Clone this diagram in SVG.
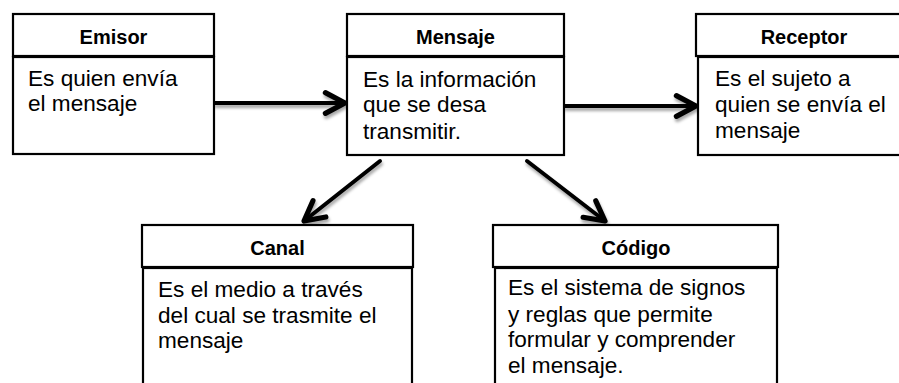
<svg xmlns="http://www.w3.org/2000/svg" width="899" height="383" viewBox="0 0 899 383">
<style>
.box{fill:#fff;stroke:#000;stroke-width:2.2}
.title{font-family:"Liberation Sans",Arial,sans-serif;font-weight:bold;font-size:20px;fill:#000;text-anchor:middle}
.body{font-family:"Liberation Sans",Arial,sans-serif;font-size:22.6px;fill:#000}
.arr{stroke:#000;stroke-width:4;fill:none;stroke-linecap:round;stroke-linejoin:round}
</style>
<defs>
<filter id="sh" x="-20%" y="-50%" width="140%" height="200%">
<feDropShadow dx="1" dy="3" stdDeviation="1.5" flood-color="#000" flood-opacity="0.35"/>
</filter>
<marker id="ah" markerUnits="userSpaceOnUse" markerWidth="30" markerHeight="30" refX="0" refY="0" viewBox="-22 -12 26 24" orient="auto" overflow="visible">
<path d="M-17,-9 L0,0 L-17,9" fill="none" stroke="#000" stroke-width="4.5" stroke-linecap="round" stroke-linejoin="round"/>
</marker>
</defs>
<rect width="899" height="383" fill="#fff"/>
<g id="connectors" filter="url(#sh)">
<line class="arr" x1="215" y1="103" x2="345" y2="103" marker-end="url(#ah)"/>
<line class="arr" x1="565" y1="106" x2="696" y2="106" marker-end="url(#ah)"/>
<line class="arr" x1="380" y1="161" x2="304" y2="221" marker-end="url(#ah)"/>
<line class="arr" x1="527" y1="161" x2="605" y2="221" marker-end="url(#ah)"/>
</g>
<g id="emisor">
<rect class="box" x="13" y="14" width="201" height="42"/>
<rect class="box" x="13" y="57" width="201" height="97"/>
<text class="title" x="113.5" y="44">Emisor</text>
<text class="body" x="28" y="86">Es quien envía</text>
<text class="body" x="28" y="111">el mensaje</text>
</g>
<g id="mensaje">
<rect class="box" x="347" y="14" width="217" height="42"/>
<rect class="box" x="347" y="57" width="217" height="98"/>
<text class="title" x="455.5" y="44">Mensaje</text>
<text class="body" x="363" y="87">Es la información</text>
<text class="body" x="363" y="112">que se desa</text>
<text class="body" x="363" y="139">transmitir.</text>
</g>
<g id="receptor">
<rect class="box" x="696" y="14" width="216" height="42"/>
<rect class="box" x="698" y="57" width="214" height="98"/>
<text class="title" x="804" y="44">Receptor</text>
<text class="body" x="715" y="86">Es el sujeto a</text>
<text class="body" x="715" y="112">quien se envía el</text>
<text class="body" x="715" y="138">mensaje</text>
</g>
<g id="canal">
<rect class="box" x="142" y="225" width="271" height="42"/>
<rect class="box" x="143" y="268" width="269" height="130"/>
<text class="title" x="277.5" y="255">Canal</text>
<text class="body" x="158" y="297">Es el medio a través</text>
<text class="body" x="158" y="323">del cual se trasmite el</text>
<text class="body" x="158" y="348">mensaje</text>
</g>
<g id="codigo">
<rect class="box" x="493" y="225" width="285" height="42"/>
<rect class="box" x="495" y="268" width="282" height="130"/>
<text class="title" x="636" y="255">Código</text>
<text class="body" x="508" y="295">Es el sistema de signos</text>
<text class="body" x="508" y="322">y reglas que permite</text>
<text class="body" x="508" y="347">formular y comprender</text>
<text class="body" x="508" y="373">el mensaje.</text>
</g>
</svg>
